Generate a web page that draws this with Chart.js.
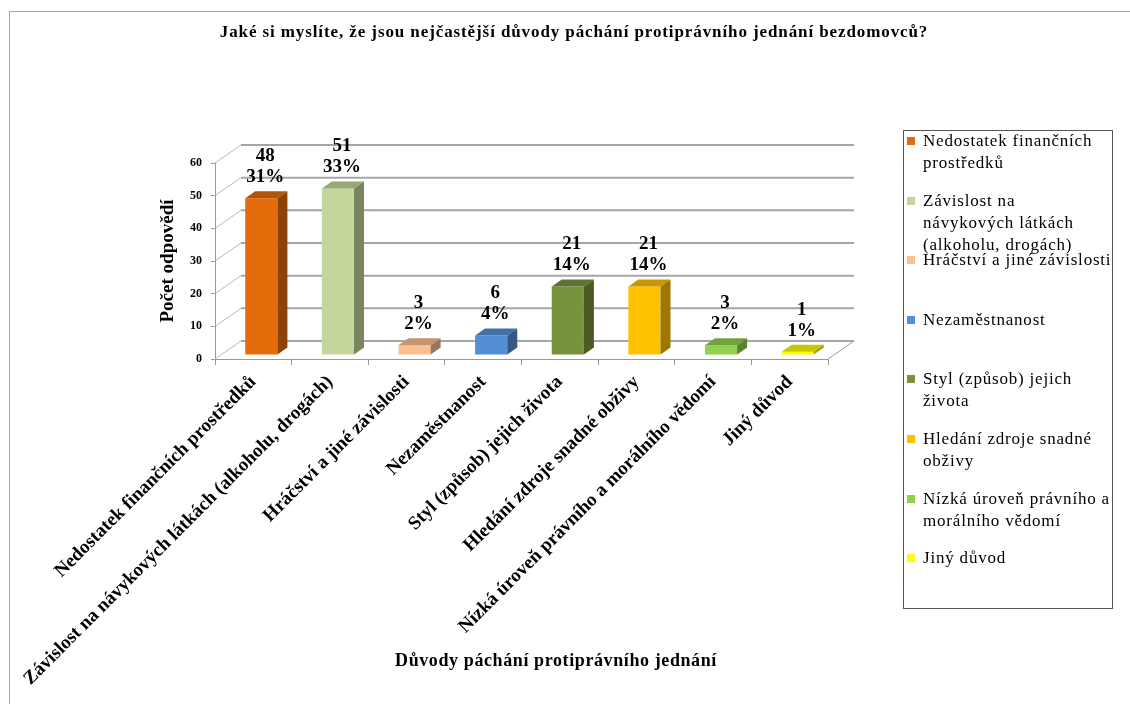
<!DOCTYPE html>
<html>
<head>
<meta charset="utf-8">
<script src="https://cdn.jsdelivr.net/npm/chart.js@4.4.0/dist/chart.umd.min.js"></script>
<style>
  body { margin: 0; background: #fff; font-family: "Liberation Serif", "Times New Roman", serif; }
  #wrap { position: relative; width: 1130px; height: 704px; overflow: hidden; }
  #frame { position: absolute; left: 9px; top: 11px; width: 1200px; height: 800px; border: 1px solid #a6a6a6; }
  #chart { position: absolute; left: 0; top: 0; }
  #title { position: absolute; left: 0; width: 1148px; top: 22px; text-align: center; font-weight: bold; font-size: 17px; letter-spacing: 0.9px; }
  #xtitle { position: absolute; left: 306px; width: 500px; top: 650px; text-align: center; font-weight: bold; font-size: 18px; letter-spacing: 0.6px; }
  #legend { position: absolute; left: 903px; top: 130px; width: 208px; height: 477px; border: 1px solid #555; }
  .item { position: absolute; left: 19px; font-size: 17px; line-height: 22px; letter-spacing: 0.8px; white-space: nowrap; }
  .swatch { position: absolute; left: -16px; top: 7px; width: 8px; height: 8px; }
</style>
</head>
<body>
<div id="wrap">
  <div id="frame"></div>
  <canvas id="chart" width="1130" height="704"></canvas>
  <div id="title">Jaké si myslíte, že jsou nejčastější důvody páchání protiprávního jednání bezdomovců?</div>
  <div id="xtitle">Důvody páchání protiprávního jednání</div>
  <div id="legend"></div>
</div>
<script>
// --- data ---
const categories = [
  "Nedostatek finančních prostředků",
  "Závislost na návykových látkách (alkoholu, drogách)",
  "Hráčství a jiné závislosti",
  "Nezaměstnanost",
  "Styl (způsob) jejich života",
  "Hledání zdroje snadné obživy",
  "Nízká úroveň právního a morálního vědomí",
  "Jiný důvod"
];
const counts = [48, 51, 3, 6, 21, 21, 3, 1];
const barColors = ["#E46C0A", "#C3D69B", "#FAC090", "#558ED5", "#77933C", "#FFC000", "#92D050", "#FFFF00"];
const yTicks = [0, 10, 20, 30, 40, 50, 60];
// legend text, wrapped like the original
const legendLabels = [
  "Nedostatek finančních\nprostředků",
  "Závislost na\nnávykových látkách\n(alkoholu, drogách)",
  "Hráčství a jiné závislosti",
  "Nezaměstnanost",
  "Styl (způsob) jejich\nživota",
  "Hledání zdroje snadné\nobživy",
  "Nízká úroveň právního a\nmorálního vědomí",
  "Jiný důvod"
];

const total = counts.reduce((a, b) => a + b, 0);
const FONT = "'Liberation Serif', 'Times New Roman', serif";

// darken a hex colour for the 3D faces
function shade(hex, f) {
  const n = parseInt(hex.slice(1), 16);
  const r = Math.round(((n >> 16) & 255) * f);
  const g = Math.round(((n >> 8) & 255) * f);
  const b = Math.round((n & 255) * f);
  return `rgb(${r},${g},${b})`;
}

// --- legend (html) ---
const legendEl = document.getElementById("legend");
legendLabels.forEach((txt, i) => {
  const item = document.createElement("div");
  item.className = "item";
  item.style.top = (-1 + 59.6 * i) + "px";
  item.innerHTML = `<span class="swatch" style="background:${barColors[i]}"></span>` + txt.replace(/\n/g, "<br>");
  legendEl.appendChild(item);
});

// --- 3D look: back wall, bar depth, value labels ---
const WALL_DX = 26, WALL_DY = -18;
const BAR_DX = 10, BAR_DY = -7;
const SHIFT_X = 8, SHIFT_Y = -4;

const threeD = {
  id: "threeD",
  beforeDatasetsDraw(chart) {
    const { ctx, chartArea, scales } = chart;
    const y = scales.y;
    ctx.save();
    yTicks.forEach(v => {
      const py = y.getPixelForValue(v);
      // side wall diagonal
      ctx.strokeStyle = "#b8b8b8";
      ctx.lineWidth = 1;
      ctx.beginPath();
      ctx.moveTo(chartArea.left, py);
      ctx.lineTo(chartArea.left + WALL_DX, py + WALL_DY);
      ctx.stroke();
      // back wall grid line
      ctx.strokeStyle = "#a6a6a6";
      ctx.lineWidth = 2;
      ctx.beginPath();
      ctx.moveTo(chartArea.left + WALL_DX, py + WALL_DY);
      ctx.lineTo(chartArea.right + WALL_DX, py + WALL_DY);
      ctx.stroke();
    });
    // floor right edge
    ctx.strokeStyle = "#a0a0a0";
    ctx.lineWidth = 1;
    ctx.beginPath();
    ctx.moveTo(chartArea.right, chartArea.bottom);
    ctx.lineTo(chartArea.right + WALL_DX, chartArea.bottom + WALL_DY);
    ctx.stroke();
    ctx.restore();
  },
  beforeDatasetDraw(chart) {
    chart.ctx.save();
    chart.ctx.translate(SHIFT_X, SHIFT_Y);
  },
  afterDatasetDraw(chart, args) {
    const { ctx } = chart;
    const meta = args.meta;
    meta.data.forEach((bar, i) => {
      const { x, y, base, width } = bar.getProps(["x", "y", "base", "width"], true);
      const l = x - width / 2, r = x + width / 2;
      // top face
      ctx.fillStyle = shade(barColors[i], 0.78);
      ctx.beginPath();
      ctx.moveTo(l, y);
      ctx.lineTo(r, y);
      ctx.lineTo(r + BAR_DX, y + BAR_DY);
      ctx.lineTo(l + BAR_DX, y + BAR_DY);
      ctx.closePath();
      ctx.fill();
      // side face
      ctx.fillStyle = shade(barColors[i], 0.62);
      ctx.beginPath();
      ctx.moveTo(r, y);
      ctx.lineTo(r + BAR_DX, y + BAR_DY);
      ctx.lineTo(r + BAR_DX, base + BAR_DY);
      ctx.lineTo(r, base);
      ctx.closePath();
      ctx.fill();
      // value + percent labels
      ctx.fillStyle = "#000";
      ctx.font = `bold 19px ${FONT}`;
      ctx.textAlign = "center";
      ctx.textBaseline = "middle";
      const pct = Math.round(counts[i] / total * 100) + "%";
      ctx.fillText(String(counts[i]), x + 4, y - 42);
      ctx.fillText(pct, x + 4, y - 21);
    });
    ctx.restore();
  }
};

new Chart(document.getElementById("chart"), {
  type: "bar",
  data: {
    labels: categories,
    datasets: [{
      data: counts,
      backgroundColor: barColors,
      borderWidth: 0,
      barPercentage: 0.42,
      categoryPercentage: 1,
      clip: false
    }]
  },
  options: {
    responsive: false,
    animation: false,
    layout: { padding: { left: 150, right: 302, top: 163, bottom: 0 } },
    plugins: {
      legend: { display: false },
      tooltip: { enabled: false }
    },
    scales: {
      x: {
        afterFit: s => { s.height = 345; },
        grid: { display: true, drawOnChartArea: false, offset: true, tickLength: 6, color: "#999" },
        border: { display: true, color: "#999" },
        ticks: {
          autoSkip: false,
          minRotation: 45,
          maxRotation: 45,
          color: "#000",
          padding: 6,
          font: { family: FONT, size: 19, weight: "bold" }
        }
      },
      y: {
        min: 0,
        max: 60,
        afterFit: s => { s.width = 65; },
        afterBuildTicks: s => { s.ticks = yTicks.map(v => ({ value: v })); },
        grid: { display: true, drawOnChartArea: false, tickLength: 4, color: "#999" },
        border: { display: true, color: "#999" },
        ticks: {
          color: "#000",
          padding: 9,
          font: { family: FONT, size: 12, weight: "bold" }
        },
        title: {
          display: true,
          text: "Počet odpovědí",
          color: "#000",
          padding: { top: 7, bottom: 4 },
          font: { family: FONT, size: 19, weight: "bold" }
        }
      }
    }
  },
  plugins: [threeD]
});
</script>
</body>
</html>
